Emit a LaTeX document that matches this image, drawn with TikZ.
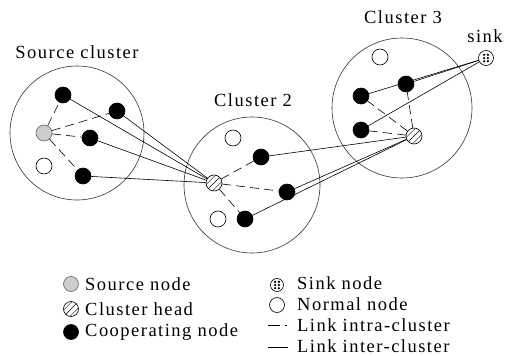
\documentclass[tikz,border=0pt]{standalone}
\usepackage{fontspec}
\setmainfont{Liberation Serif}[LetterSpace=8]
\begin{document}
\begin{tikzpicture}[x=1pt,y=-1pt,
  every node/.style={inner sep=0pt},
  clust/.style={circle,draw=black!80,line width=0.6pt,minimum size=#1},
  basenode/.style={circle,minimum size=16pt,line width=0.6pt},
  coop/.style={basenode,fill=black,draw=black},
  norm/.style={basenode,draw=black,fill=white},
  src/.style={basenode,draw=black!60,fill=black!20},
  chead/.style={basenode,draw=black,fill=white,
    path picture={\foreach \o in {-4.5,0,4.5}{\draw[black,line width=0.5pt]
      ([shift={(\o*0.707-10,\o*0.707+10)}]path picture bounding box.center) --
      ([shift={(\o*0.707+10,\o*0.707-10)}]path picture bounding box.center);}}},
  sinknode/.style={basenode,minimum size=15pt,draw=black,fill=white,
    path picture={\foreach \u in {-1,1}{\foreach \v in {-1,0,1}{
      \fill[black] ([shift={(\u*1.9,\v*3.2)}]path picture bounding box.center) circle (1.3pt);}}}},
  intra/.style={line width=0.6pt,dash pattern=on 9pt off 5pt},
  inter/.style={line width=0.6pt},
  lbl/.style={font=\fontsize{18.5}{22}\selectfont},
  leg/.style={font=\fontsize{18.5}{22}\selectfont,anchor=west}
]
\useasboundingbox (0,0) rectangle (507,356);
% clusters
\node[clust=134pt] (c1) at (77,133) {};
\node[clust=136pt] (c2) at (252,185) {};
\node[clust=140pt] (c3) at (402,108) {};
\node[lbl] (t1) at (77,52) {Source cluster};
\node[lbl] (t2) at (253,100) {Cluster 2};
\node[lbl] (t3) at (403,17) {Cluster 3};
\node[lbl] (t4) at (485,36) {sink};
% source cluster nodes
\node[src] (s) at (44,133) {};
\node[norm] (n1) at (44,166) {};
\node[coop] (a) at (63,95) {};
\node[coop] (b) at (117,111) {};
\node[coop] (c) at (90,138) {};
\node[coop] (d) at (83,176) {};
% cluster 2
\node[chead] (h2) at (214,183) {};
\node[norm] (n2) at (233,138) {};
\node[norm] (n3) at (218,219) {};
\node[coop] (e) at (261,157) {};
\node[coop] (f) at (287,192) {};
\node[coop] (g) at (245,219) {};
% cluster 3
\node[chead] (h3) at (414,136) {};
\node[norm] (n4) at (380,57) {};
\node[coop] (h) at (361,96) {};
\node[coop] (i) at (406,84) {};
\node[coop] (j) at (361,130) {};
\node[sinknode] (k) at (486,58) {};
% links
\foreach \x in {a,b,c,d} \draw[intra] (s) -- (\x);
\foreach \x in {a,b,c,d} \draw[inter] (\x) -- (h2);
\foreach \x in {e,f,g} \draw[intra] (h2) -- (\x);
\foreach \x in {e,f,g} \draw[inter] (\x) -- (h3);
\foreach \x in {h,i,j} \draw[intra] (h3) -- (\x);
\foreach \x in {h,i,j} \draw[inter] (\x) -- (k);
% legend
\node[src,minimum size=15pt] (l1) at (71,284) {};
\node[chead,minimum size=15pt] (l2) at (71,309) {};
\node[coop,minimum size=15pt] (l3) at (71,332) {};
\node[leg] (lt1) at (85,284) {Source node};
\node[leg] (lt2) at (85,309) {Cluster head};
\node[leg] (lt3) at (85,332) {Cooperating node};
\node[sinknode,minimum size=13pt] (l4) at (277,285) {};
\node[norm,minimum size=15pt] (l5) at (277,305) {};
\coordinate (l6a) at (268,325);
\coordinate (l6b) at (288,325);
\coordinate (l7a) at (268,347);
\coordinate (l7b) at (288,347);
\draw[line width=0.6pt,dash pattern=on 12pt off 5pt on 1.5pt off 5pt] (l6a) -- (l6b);
\draw[inter] (l7a) -- (l7b);
\node[leg] (lt4) at (297,283) {Sink node};
\node[leg] (lt5) at (297,304) {Normal node};
\node[leg] (lt6) at (297,325) {Link intra-cluster};
\node[leg] (lt7) at (297,346) {Link inter-cluster};
\end{tikzpicture}
\end{document}
